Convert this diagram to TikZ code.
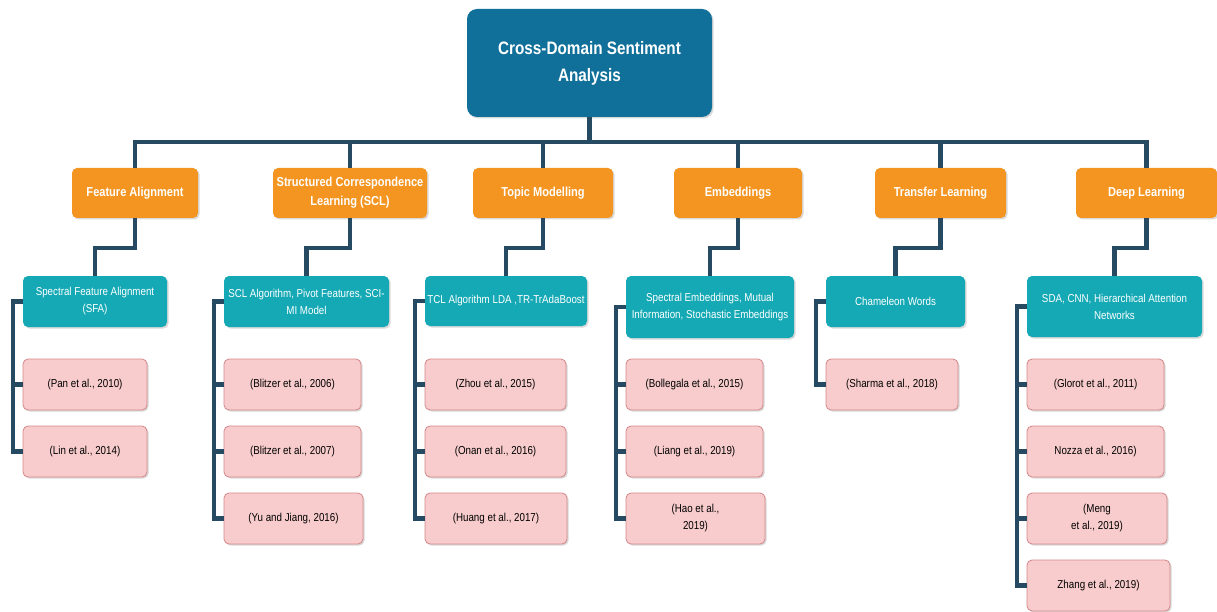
\documentclass[tikz,border=0pt]{standalone}
\usepackage{fontspec}
\setmainfont{Liberation Sans}[FakeStretch=0.85]
\usetikzlibrary{shadows}
\definecolor{rootBlue}{HTML}{11709A}
\definecolor{mainOrange}{HTML}{F39520}
\definecolor{subTeal}{HTML}{14A9B5}
\definecolor{refPink}{HTML}{F8CCCC}
\definecolor{refBorder}{HTML}{D3878A}
\definecolor{lineNavy}{HTML}{264A62}
\begin{document}
\begin{tikzpicture}
[x=1pt,y=-1pt,
  lineDecorate/.style={-,line width=4.5pt,draw=lineNavy},%
  boxDecorate/.style={shape=rectangle,rounded corners=5pt,align=center,inner sep=2pt,
    drop shadow={shadow xshift=1.5pt,shadow yshift=-1.5pt,opacity=0.3}},%
  rootDecorate/.style={boxDecorate,fill=rootBlue,text=white,rounded corners=10pt,
    font=\bfseries\fontsize{18}{27}\selectfont,minimum width=245pt,minimum height=108pt},%
  mainDecorate/.style={boxDecorate,fill=mainOrange,text=white,
    font=\bfseries\fontsize{13}{19}\selectfont,minimum height=50pt},%
  subDecorate/.style={boxDecorate,fill=subTeal,text=white,
    font=\fontsize{11.5}{17}\selectfont},%
  refDecorate/.style={boxDecorate,fill=refPink,draw=refBorder,line width=0.8pt,text=black,
    font=\fontsize{11.5}{17}\selectfont,minimum height=51pt}]
\useasboundingbox (0,0) rectangle (1217,612);
%% root
\node (root) at (589.5,63) [rootDecorate] {Cross-Domain Sentiment\\Analysis};
%% first level
\foreach \nodename/\x/\w/\txt in {fa/135/126/{Feature Alignment},
  scl/350/154/{Structured Correspondence\\Learning (SCL)}, tm/543/140/{Topic Modelling},
  emb/738/128/{Embeddings}, tl/940.5/131/{Transfer Learning}, dl/1146.5/141/{Deep Learning}}
{
  \node (\nodename) at (\x,193) [mainDecorate,minimum width=\w pt] {\txt};
}
%% second level
\foreach \nodename/\x/\y/\w/\h/\txt in {sfa/95/301.5/144/51/{Spectral Feature Alignment\\(SFA)},
  sclalg/306.5/301.5/165/51/{SCL Algorithm, Pivot Features, SCI-\\MI Model},
  tcl/506/301/162/50/{TCL Algorithm LDA ,TR-TrAdaBoost},
  spe/710/307/168/62/{Spectral Embeddings, Mutual\\Information, Stochastic Embeddings},
  cham/895.5/301.5/139/51/{Chameleon Words},
  sda/1114.5/306.5/175/61/{SDA, CNN, Hierarchical Attention\\Networks}}
{
  \node (\nodename) at (\x,\y) [subDecorate,minimum width=\w pt,minimum height=\h pt] {\txt};
}
%% references
\foreach \nodename/\x/\y/\w/\txt in {pan/85/384.5/124/{(Pan et al., 2010)},
  lin/85/451.5/124/{(Lin et al., 2014)},
  blitzerA/292.5/384.5/137/{(Blitzer et al., 2006)},
  blitzerB/292.5/451.5/137/{(Blitzer et al., 2007)},
  yu/293.5/518.5/139/{(Yu and Jiang, 2016)},
  zhou/495.5/384.5/141/{(Zhou et al., 2015)},
  onan/495.5/451.5/141/{(Onan et al., 2016)},
  huang/496/518.5/142/{(Huang et al., 2017)},
  bollegala/694.5/384.5/137/{(Bollegala et al., 2015)},
  liang/694.5/451.5/137/{(Liang et al., 2019)},
  hao/695.5/518.5/139/{(Hao et al.,\\2019)},
  sharma/892/384.5/132/{(Sharma et al., 2018)},
  glorot/1095.5/384.5/137/{(Glorot et al., 2011)},
  nozza/1095.5/451.5/137/{Nozza et al., 2016)},
  meng/1097/518.5/140/{(Meng\\et al., 2019)},
  zhang/1098.5/585.5/143/{Zhang et al., 2019)}}
{
  \node (\nodename) at (\x,\y) [refDecorate,minimum width=\w pt] {\txt};
}
%% edges or lines
\foreach \endnode in {fa, scl, tm, emb, tl, dl}
{
  \draw[lineDecorate] (root.south) -- ++(0,25) -| (\endnode.north);
}
\foreach \startnode/\endnode in {fa/sfa, scl/sclalg, tm/tcl, emb/spe, tl/cham, dl/sda}
{
  \draw[lineDecorate] (\startnode.south) -- ++(0,30) -| (\endnode.north);
}
\foreach \startnode/\endnode in {sfa/pan, sfa/lin, sclalg/blitzerA, sclalg/blitzerB, sclalg/yu,
  tcl/zhou, tcl/onan, tcl/huang, spe/bollegala, spe/liang, spe/hao, cham/sharma,
  sda/glorot, sda/nozza, sda/meng, sda/zhang}
{
  \draw[lineDecorate] (\startnode.west) -- ++(-10,0) |- (\endnode.west);
}
\end{tikzpicture}
\end{document}
